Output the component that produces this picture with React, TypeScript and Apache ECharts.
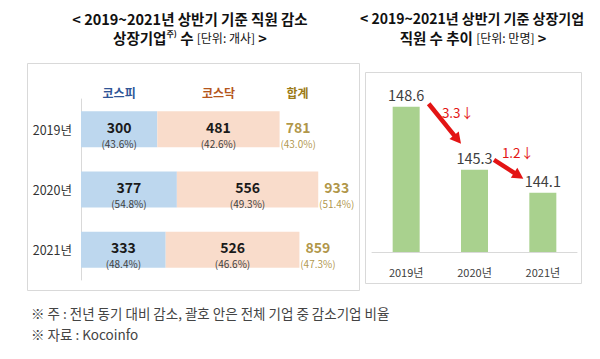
import React, { useEffect, useRef } from 'react';
import * as echarts from 'echarts';

const years = ['2019년', '2020년', '2021년'];
const kospi = [300, 377, 333];
const kospiPct = ['43.6%', '54.8%', '48.4%'];
const kosdaq = [481, 556, 526];
const kosdaqPct = ['42.6%', '49.3%', '46.6%'];
const totals = [781, 933, 859];
const totalPct = ['43.0%', '51.4%', '47.3%'];
const employees = [148.6, 145.3, 144.1];

const KR = "'Noto Sans CJK KR', sans-serif";
const NUM = "'Liberation Sans Narrow', 'Noto Sans CJK KR', sans-serif";

const RED = '#e31414';

function arrow(sx: number, sy: number, ex: number, ey: number) {
  const dx = ex - sx, dy = ey - sy;
  const len = Math.sqrt(dx * dx + dy * dy);
  const ux = dx / len, uy = dy / len;
  const nx = -uy, ny = ux;
  const hl = 11, hw = 6;
  const bx = ex - ux * hl, by = ey - uy * hl;
  return [
    { type: 'line', silent: true, shape: { x1: sx, y1: sy, x2: ex - ux * 6, y2: ey - uy * 6 }, style: { stroke: RED, lineWidth: 4.5 } },
    { type: 'polygon', silent: true, shape: { points: [[ex, ey], [bx + nx * hw, by + ny * hw], [bx - nx * hw, by - ny * hw]] }, style: { fill: RED } },
  ];
}

export default function App() {
  const ref = useRef<HTMLDivElement>(null);
  useEffect(() => {
    if (!ref.current) return;
    const chart = echarts.init(ref.current, null, { renderer: 'svg' });
    const pctRich = {
      v: { fontSize: 14, fontWeight: 'bold', color: '#1a1a1a', lineHeight: 20, fontFamily: NUM },
      p: { fontSize: 10, color: '#404040', lineHeight: 13, fontFamily: NUM },
    };
    chart.setOption({
      animation: false,
      grid: [
        { left: 81, top: 99, width: 267, height: 181 },
        { left: 372, top: 80, width: 205, height: 172 },
      ],
      xAxis: [
        { type: 'value', gridIndex: 0, min: 0, max: 1050, show: false },
        {
          type: 'category', gridIndex: 1, data: years,
          axisLine: { lineStyle: { color: '#d9d9d9', width: 1 } }, axisTick: { show: false },
          axisLabel: { fontSize: 11, color: '#404040', margin: 14, fontFamily: NUM },
        },
      ],
      yAxis: [
        {
          type: 'category', gridIndex: 0, data: years, inverse: true,
          axisLine: { lineStyle: { color: '#d9d9d9' } }, axisTick: { show: false },
          axisLabel: { fontSize: 12.5, color: '#333', margin: 9, fontFamily: NUM },
        },
        { type: 'value', gridIndex: 1, min: 141, max: 150, show: false },
      ],
      series: [
        {
          type: 'bar', name: '코스피', xAxisIndex: 0, yAxisIndex: 0, stack: 'L', barWidth: 36, data: kospi,
          itemStyle: { color: '#bdd7ee' },
          label: {
            show: true, position: 'inside', offset: [0, 4],
            formatter: (p: any) => `{v|${kospi[p.dataIndex]}}\n{p|(${kospiPct[p.dataIndex]})}`,
            rich: pctRich,
          },
        },
        {
          type: 'bar', name: '코스닥', xAxisIndex: 0, yAxisIndex: 0, stack: 'L', barWidth: 36, data: kosdaq,
          itemStyle: { color: '#f9dccb' },
          label: {
            show: true, position: 'inside', offset: [0, 4],
            formatter: (p: any) => `{v|${kosdaq[p.dataIndex]}}\n{p|(${kosdaqPct[p.dataIndex]})}`,
            rich: pctRich,
          },
        },
        {
          type: 'scatter', name: '합계', xAxisIndex: 0, yAxisIndex: 0, silent: true,
          data: totals.map((t, i) => [t, i]), symbolSize: 1,
          itemStyle: { color: 'rgba(0,0,0,0)' },
          label: {
            show: true, position: 'right', distance: 3, offset: [0, 4],
            formatter: (p: any) => `{v|${totals[p.dataIndex]}}\n{p|(${totalPct[p.dataIndex]})}`,
            rich: {
              v: { fontSize: 14, fontWeight: 'bold', color: '#9c7b16', lineHeight: 20, fontFamily: NUM, width: 30, align: 'center' },
              p: { fontSize: 10, color: '#9c7b16', lineHeight: 13, fontFamily: NUM, width: 30, align: 'center' },
            },
          },
        },
        {
          type: 'bar', name: '직원 수', xAxisIndex: 1, yAxisIndex: 1, barWidth: 27, data: employees,
          itemStyle: { color: '#a9d18e' },
          label: {
            show: true, position: 'top', distance: 5, fontSize: 14.5, color: '#404040', fontFamily: NUM,
            formatter: (p: any) => employees[p.dataIndex].toFixed(1),
          },
        },
      ],
    });

    const L = (x: number, i: number) => chart.convertToPixel({ xAxisIndex: 0, yAxisIndex: 0 }, [x, i]) as number[];
    const R = (i: number) => chart.convertToPixel({ xAxisIndex: 1, yAxisIndex: 1 }, [i, employees[i]]) as number[];
    const p1 = R(0), p2 = R(1), p3 = R(2);
    const headY = 92;

    const graphic: any[] = [
      { type: 'rect', silent: true, shape: { x: 27.5, y: 63.5, width: 332, height: 227 }, style: { fill: 'none', stroke: '#d9d9d9', lineWidth: 1 } },
      { type: 'rect', silent: true, shape: { x: 365.5, y: 72.5, width: 216, height: 211 }, style: { fill: 'none', stroke: '#d9d9d9', lineWidth: 1 } },
      {
        type: 'text', x: 190, y: 18,
        style: { text: '< 2019~2021년 상반기 기준 직원 감소', fontSize: 14.5, lineHeight: 15, fontWeight: 'bold', fontFamily: KR, fill: '#111', align: 'center', verticalAlign: 'middle' },
      },
      {
        type: 'text', x: 190, y: 37,
        style: {
          text: '{b|상장기업}{s|주)}{b| 수 }{u|[단위: 개사]}{b| >}',
          align: 'center', verticalAlign: 'middle',
          rich: {
            b: { fontSize: 14.5, lineHeight: 15, fontWeight: 'bold', fontFamily: KR, fill: '#111' },
            s: { fontSize: 8, lineHeight: 9, fontWeight: 'bold', fontFamily: KR, fill: '#111', verticalAlign: 'top' },
            u: { fontSize: 12, lineHeight: 13, fontFamily: KR, fill: '#111' },
          },
        },
      },
      {
        type: 'text', x: 472, y: 18,
        style: { text: '< 2019~2021년 상반기 기준 상장기업', fontSize: 14, lineHeight: 15, fontWeight: 'bold', fontFamily: KR, fill: '#111', align: 'center', verticalAlign: 'middle' },
      },
      {
        type: 'text', x: 473, y: 37,
        style: {
          text: '{b|직원 수 추이 }{u|[단위: 만명]}{b| >}',
          align: 'center', verticalAlign: 'middle',
          rich: {
            b: { fontSize: 14.5, lineHeight: 15, fontWeight: 'bold', fontFamily: KR, fill: '#111' },
            u: { fontSize: 12, lineHeight: 13, fontFamily: KR, fill: '#111' },
          },
        },
      },
      { type: 'text', x: L(kospi[0] / 2, 0)[0], y: headY, style: { text: '코스피', fontSize: 12, fontWeight: 'bold', fontFamily: KR, fill: '#2f5597', align: 'center', verticalAlign: 'middle' } },
      { type: 'text', x: L(kospi[0] + kosdaq[0] / 2, 0)[0], y: headY, style: { text: '코스닥', fontSize: 12, fontWeight: 'bold', fontFamily: KR, fill: '#b5561c', align: 'center', verticalAlign: 'middle' } },
      { type: 'text', x: L(totals[0], 0)[0] + 18, y: headY, style: { text: '합계', fontSize: 12, fontWeight: 'bold', fontFamily: KR, fill: '#9c7b16', align: 'center', verticalAlign: 'middle' } },
      ...arrow(p1[0] + 22.5, p1[1] - 3, p2[0] - 13.5, p2[1] - 26),
      ...arrow(p2[0] + 19.5, p2[1] - 10, p3[0] - 19.5, p3[1] - 14),
      { type: 'text', x: 458, y: 112, style: { text: `${(employees[0] - employees[1]).toFixed(1)}↓`, fontSize: 13.5, fontFamily: NUM, fill: RED, align: 'center', verticalAlign: 'middle' } },
      { type: 'text', x: 518, y: 152, style: { text: `${(employees[1] - employees[2]).toFixed(1)}↓`, fontSize: 13.5, fontFamily: NUM, fill: RED, align: 'center', verticalAlign: 'middle' } },
      { type: 'text', x: 31, y: 313, style: { text: '※ 주 : 전년 동기 대비 감소, 괄호 안은 전체 기업 중 감소기업 비율', fontSize: 13.5, fontFamily: KR, fill: '#444', align: 'left', verticalAlign: 'middle' } },
      { type: 'text', x: 31, y: 334, style: { text: '※ 자료 : Kocoinfo', fontSize: 13.5, fontFamily: KR, fill: '#444', align: 'left', verticalAlign: 'middle' } },
    ];
    chart.setOption({ graphic });

    return () => chart.dispose();
  }, []);

  return <div ref={ref} style={{ position: 'fixed', left: 0, top: 0, width: 600, height: 359, background: '#fff' }} />;
}
